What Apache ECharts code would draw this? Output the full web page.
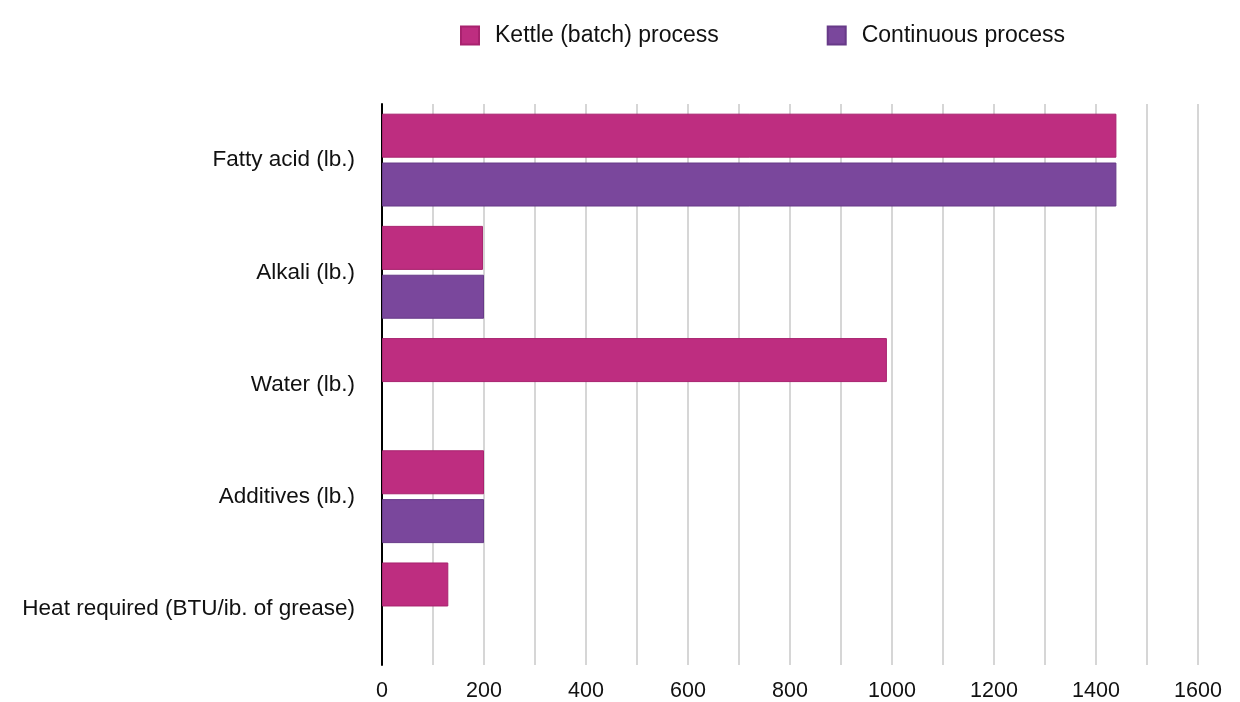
<!DOCTYPE html>
<html>
<head>
<meta charset="utf-8">
<script src="https://cdn.jsdelivr.net/npm/echarts@6/dist/echarts.min.js"></script>
<style>
html,body{margin:0;padding:0;background:#fff;}
#chart{width:1240px;height:702px;}
</style>
</head>
<body>
<div id="chart"></div>
<script>
var categories = ["Fatty acid (lb.)", "Alkali (lb.)", "Water (lb.)", "Additives (lb.)", "Heat required (BTU/ib. of grease)"];
var kettleValues = [1440, 198, 990, 200, 130];
var continuousValues = [1440, 200, null, 200, null];
var seriesNames = ["Kettle (batch) process", "Continuous process"];
var xTicks = [0, 200, 400, 600, 800, 1000, 1200, 1400, 1600];

var FONT = "Liberation Sans, Arial, Helvetica, sans-serif";
var chart = echarts.init(document.getElementById('chart'), null, {renderer: 'canvas'});
chart.setOption({
  animation: false,
  backgroundColor: '#ffffff',
  textStyle: {fontFamily: FONT},
  legend: {
    top: 19,
    left: 455,
    itemWidth: 18,
    itemHeight: 18,
    itemGap: 108,
    icon: 'rect',
    textStyle: {fontSize: 23, color: '#111', fontFamily: FONT, padding: [0, 0, 0, 11]},
    data: seriesNames
  },
  grid: {left: 382, right: 42, top: 104, bottom: 34, containLabel: false},
  xAxis: {
    type: 'value',
    min: 0,
    max: 1600,
    interval: 100,
    axisLine: {show: false},
    axisTick: {show: false},
    splitLine: {show: true, lineStyle: {color: '#c8c8c8', width: 1.5}},
    axisLabel: {
      fontSize: 21.5, color: '#111', margin: 15, fontFamily: FONT,
      formatter: function (v) { return xTicks.indexOf(v) >= 0 ? String(v) : ''; }
    }
  },
  yAxis: {
    type: 'category',
    inverse: true,
    data: categories,
    axisLine: {show: true, lineStyle: {color: '#000', width: 2}},
    axisTick: {show: false},
    splitLine: {show: false},
    axisLabel: {fontSize: 22.5, color: '#111', margin: 27, fontFamily: FONT}
  },
  series: [
    {
      name: seriesNames[0], type: 'bar', data: kettleValues,
      barWidth: 44, barGap: '11%',
      itemStyle: {color: '#BE2D80', borderColor: '#a8226e', borderWidth: 1}
    },
    {
      name: seriesNames[1], type: 'bar', data: continuousValues,
      barWidth: 44,
      itemStyle: {color: '#7A479C', borderColor: '#673a88', borderWidth: 1}
    }
  ]
});
</script>
</body>
</html>
